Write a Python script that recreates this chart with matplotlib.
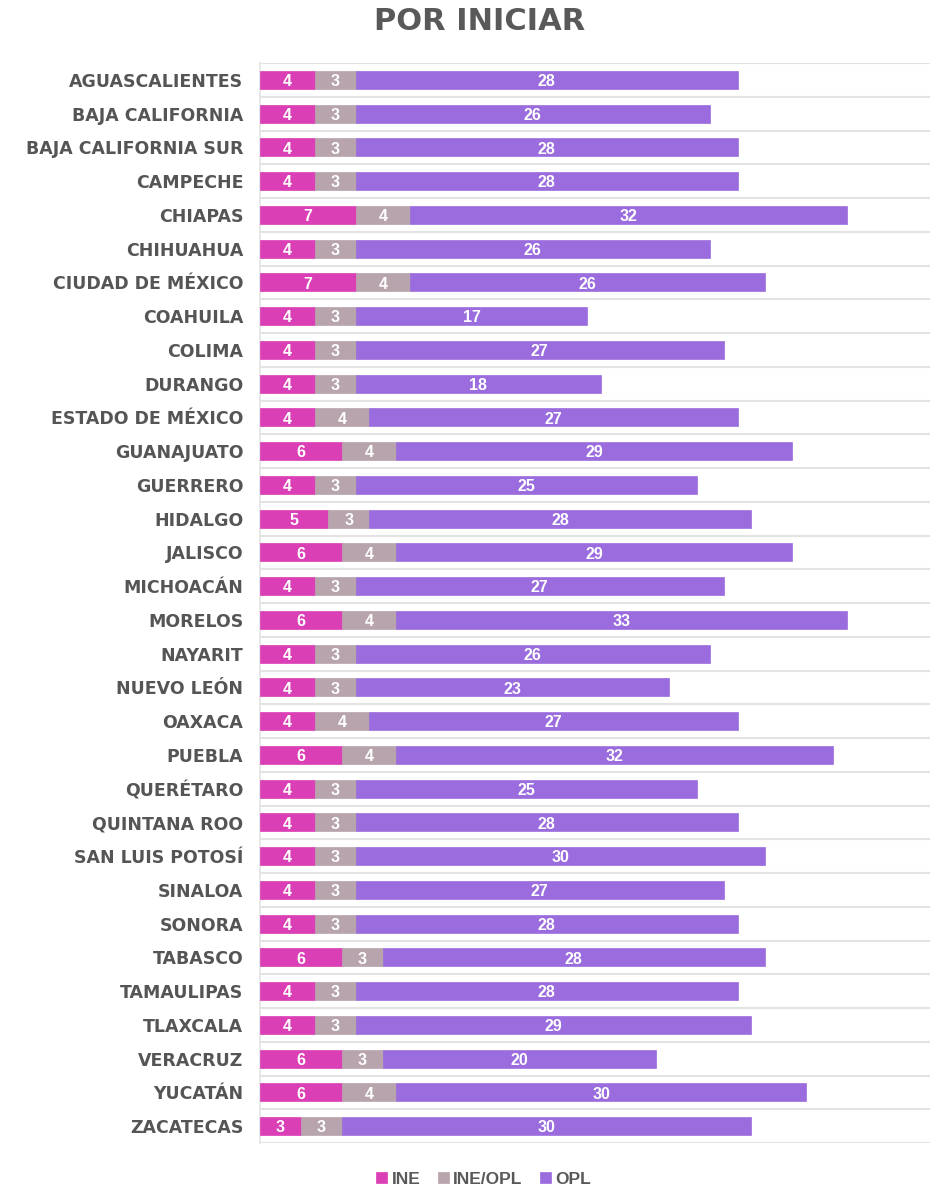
import matplotlib
matplotlib.use("Agg")
import matplotlib.pyplot as plt
import numpy as np

plt.rcParams["font.family"] = ["DejaVu Sans"]

states = ["AGUASCALIENTES", "BAJA CALIFORNIA", "BAJA CALIFORNIA SUR", "CAMPECHE", "CHIAPAS",
          "CHIHUAHUA", "CIUDAD DE MÉXICO", "COAHUILA", "COLIMA", "DURANGO",
          "ESTADO DE MÉXICO", "GUANAJUATO", "GUERRERO", "HIDALGO", "JALISCO",
          "MICHOACÁN", "MORELOS", "NAYARIT", "NUEVO LEÓN", "OAXACA", "PUEBLA",
          "QUERÉTARO", "QUINTANA ROO", "SAN LUIS POTOSÍ", "SINALOA", "SONORA",
          "TABASCO", "TAMAULIPAS", "TLAXCALA", "VERACRUZ", "YUCATÁN", "ZACATECAS"]
ine = [4, 4, 4, 4, 7, 4, 7, 4, 4, 4, 4, 6, 4, 5, 6, 4, 6, 4, 4, 4, 6, 4, 4, 4, 4, 4, 6, 4, 4, 6, 6, 3]
ine_opl = [3, 3, 3, 3, 4, 3, 4, 3, 3, 3, 4, 4, 3, 3, 4, 3, 4, 3, 3, 4, 4, 3, 3, 3, 3, 3, 3, 3, 3, 3, 4, 3]
opl = [28, 26, 28, 28, 32, 26, 26, 17, 27, 18, 27, 29, 25, 28, 29, 27, 33, 26, 23, 27, 32, 25, 28, 30, 27, 28, 28, 28, 29, 20, 30, 30]
series_names = ["INE", "INE/OPL", "OPL"]
colors = ["#DB3FB5", "#B7A4AD", "#9A6CDE"]

fig = plt.figure(figsize=(9.3, 11.88), dpi=100)
ax = fig.add_axes([260/930, 1 - 1143/1188, 1 - 260/930, (1143 - 63)/1188])

y = np.arange(len(states))
left = np.zeros(len(states))
for vals, name, c in zip([ine, ine_opl, opl], series_names, colors):
    vals = np.array(vals, dtype=float)
    ax.barh(y, vals, left=left, height=0.54, color=c, label=name,
            edgecolor=c, linewidth=0.5, zorder=3)
    for yi, l, v in zip(y, left, vals):
        ax.text(l + v/2, yi + 0.05, f"{int(v)}", ha="center", va="center",
                color="white", fontsize=11.5, fontweight="bold",
                family="Liberation Sans", zorder=4)
    left = left + vals

ax.set_ylim(len(states) - 0.5, -0.5)
ax.set_xlim(0, 49.1)
ax.set_yticks(y)
ax.set_yticklabels(states, fontsize=12.5, fontweight="bold", color="#555555")
ax.tick_params(axis="y", length=0, pad=12)
ax.set_xticks([])
ax.set_yticks(np.arange(-0.5, len(states), 1), minor=True)
ax.tick_params(axis="y", which="minor", length=0)
ax.grid(axis="y", which="minor", color="#E3E3E3", linewidth=1.5, zorder=0)
ax.grid(axis="y", which="major", visible=False)
for s in ["top", "right", "bottom"]:
    ax.spines[s].set_visible(False)
ax.spines["left"].set_color("#E3E3E3")
ax.spines["left"].set_linewidth(1.2)

fig.text(0.516, 0.982, "POR INICIAR", ha="center", va="center", fontsize=22,
         fontweight="bold", color="#595959", family="DejaVu Sans")

fig.legend(loc="lower center", bbox_to_anchor=(0.52, -0.012), ncol=3, frameon=False,
           handlelength=0.65, handleheight=0.65, handletextpad=0.25, columnspacing=1.0,
           prop={"size": 12.5, "weight": "bold", "family": "Liberation Sans"},
           labelcolor="#595959")

fig.savefig("out.png", dpi=100)
